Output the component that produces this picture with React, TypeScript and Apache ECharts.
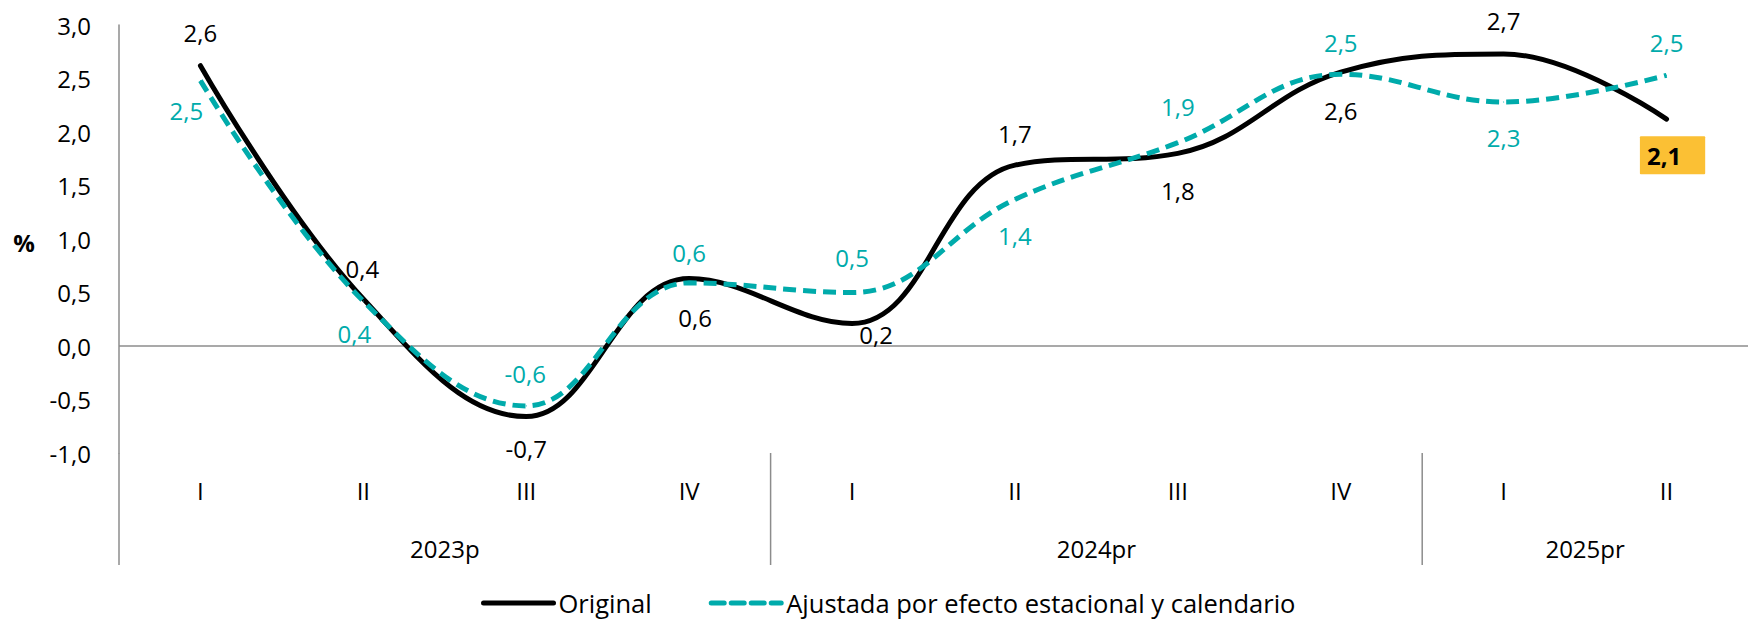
import React, { useEffect, useRef } from "react";
import * as echarts from "echarts";

// ---- data ----
const quarterLabels = ["I", "II", "III", "IV", "I", "II", "III", "IV", "I", "II"];
const yearLabels = ["2023p", "2024pr", "2025pr"];
const quartersPerYear = [4, 4, 2];
const originalValues = [2.62, 0.44, -0.66, 0.63, 0.21, 1.69, 1.8, 2.56, 2.73, 2.12];
const adjustedValues = [2.48, 0.42, -0.56, 0.59, 0.5, 1.37, 1.9, 2.54, 2.28, 2.53];
const seriesNames = ["Original", "Ajustada por efecto estacional y calendario"];
const yMin = -1;
const yMax = 3;
const yStep = 0.5;
const yUnit = "%";

// ---- label placement (pixel offsets of each value label from its point) ----
const originalLabelOffsets = [
  [0, -33], [-1, -30], [0, 32], [6, 39], [24, 11],
  [0, -32], [0, 37], [0, 38], [0, -33], [6, 36],
];
const adjustedLabelOffsets = [
  [-14, 30], [-9, 32], [-1, -32], [0, -30], [0, -35],
  [0, 36], [0, -36], [0, -32], [0, 35], [0, -33],
];

const FONT = "Open Sans";
const TEAL = "#00ABAB";
const GRAY = "#8c8c8c";
const fmt = (v: number) => v.toFixed(1).replace(".", ",");

export default function App() {
  const ref = useRef<HTMLDivElement>(null);

  useEffect(() => {
    document.body.style.margin = "0";
    const el = ref.current!;
    const chart = echarts.init(el, null, { renderer: "svg" });

    const last = originalValues.length - 1;

    const option: any = {
      animation: false,
      textStyle: { fontFamily: FONT },
      grid: { left: 119, right: -7, top: 25, bottom: 166, containLabel: false },
      legend: {
        data: seriesNames,
        left: 481,
        top: 590,
        padding: 0,
        itemWidth: 70,
        itemHeight: 26,
        itemGap: 57,
        itemStyle: { opacity: 0 },
        lineStyle: { width: 5, cap: "round" },
        textStyle: { fontSize: 25.5, lineHeight: 24, color: "#000", fontFamily: FONT },
        selectedMode: false,
      },
      xAxis: {
        type: "category",
        data: quarterLabels,
        boundaryGap: true,
        axisLine: { show: false },
        axisTick: { show: false },
        axisLabel: { interval: 0, margin: 25, fontSize: 24, color: "#000", fontFamily: FONT },
        splitLine: { show: false },
      },
      yAxis: {
        type: "value",
        min: yMin,
        max: yMax,
        interval: yStep,
        axisLine: { show: true, lineStyle: { color: GRAY, width: 1.5 } },
        axisTick: { show: false },
        splitLine: { show: false },
        axisLabel: {
          margin: 28,
          fontSize: 24,
          color: "#000",
          fontFamily: FONT,
          formatter: (v: number) => fmt(v),
        },
      },
      series: [
        {
          name: seriesNames[0],
          type: "line",
          smooth: 0.4,
          symbol: "circle",
          symbolSize: 1,
          showSymbol: true,
          z: 3,
          emphasis: { disabled: true },
          lineStyle: { color: "#000", width: 5, cap: "round" },
          itemStyle: { color: "#000" },
          label: {
            show: true,
            position: "inside",
            fontSize: 24,
            color: "#000",
            fontFamily: FONT,
            formatter: (p: any) => fmt(p.value),
          },
          data: originalValues.map((v, i) => {
            const base: any = { value: v, label: { offset: originalLabelOffsets[i] } };
            if (i === last) {
              base.label = {
                offset: originalLabelOffsets[i],
                backgroundColor: "#FBC034",
                fontWeight: "bold",
                padding: [7, 24, 7, 7],
                borderRadius: 1,
              };
            }
            return base;
          }),
        },
        {
          name: seriesNames[1],
          type: "line",
          smooth: 0.4,
          symbol: "circle",
          symbolSize: 1,
          showSymbol: true,
          z: 4,
          emphasis: { disabled: true },
          lineStyle: { color: TEAL, width: 5, type: [13, 7], cap: "butt" },
          itemStyle: { color: TEAL },
          label: {
            show: true,
            position: "inside",
            fontSize: 24,
            color: TEAL,
            fontFamily: FONT,
            formatter: (p: any) => fmt(p.value),
          },
          data: adjustedValues.map((v, i) => ({ value: v, label: { offset: adjustedLabelOffsets[i] } })),
        },
      ],
    };

    chart.setOption(option);

    const xAt = (i: number) => chart.convertToPixel({ xAxisIndex: 0 }, i) as number;
    const yAt = (v: number) => chart.convertToPixel({ yAxisIndex: 0 }, v) as number;
    const band = xAt(1) - xAt(0);
    const left = xAt(0) - band / 2;
    const right = xAt(quarterLabels.length - 1) + band / 2;
    const yBottom = yAt(yMin);
    const yZero = yAt(0);
    const ext = 112;

    const elements: any[] = [];
    elements.push({
      type: "line",
      z: 0,
      shape: { x1: left, y1: yZero, x2: right, y2: yZero },
      style: { stroke: GRAY, lineWidth: 1.5 },
    });
    elements.push({
      type: "line",
      z: 0,
      shape: { x1: left, y1: yBottom, x2: left, y2: yBottom + ext },
      style: { stroke: GRAY, lineWidth: 1.5 },
    });
    let start = 0;
    quartersPerYear.forEach((n, k) => {
      const x0 = left + start * band;
      const x1 = left + (start + n) * band;
      if (k > 0) {
        elements.push({
          type: "line",
          z: 0,
          shape: { x1: x0, y1: yBottom, x2: x0, y2: yBottom + ext },
          style: { stroke: GRAY, lineWidth: 1.5 },
        });
      }
      elements.push({
        type: "text",
        x: (x0 + x1) / 2,
        y: yBottom + 95,
        style: {
          text: yearLabels[k],
          fontSize: 24,
          fontFamily: FONT,
          fill: "#000",
          align: "center",
          verticalAlign: "middle",
        },
      });
      start += n;
    });
    elements.push({
      type: "text",
      x: 24,
      y: yAt(1) + 3,
      style: {
        text: yUnit,
        fontSize: 24,
        fontWeight: "bold",
        fontFamily: FONT,
        fill: "#000",
        align: "center",
        verticalAlign: "middle",
      },
    });

    chart.setOption({ graphic: { elements } });

    return () => {
      chart.dispose();
    };
  }, []);

  return <div ref={ref} style={{ width: 1748, height: 619, display: "block" }} />;
}
